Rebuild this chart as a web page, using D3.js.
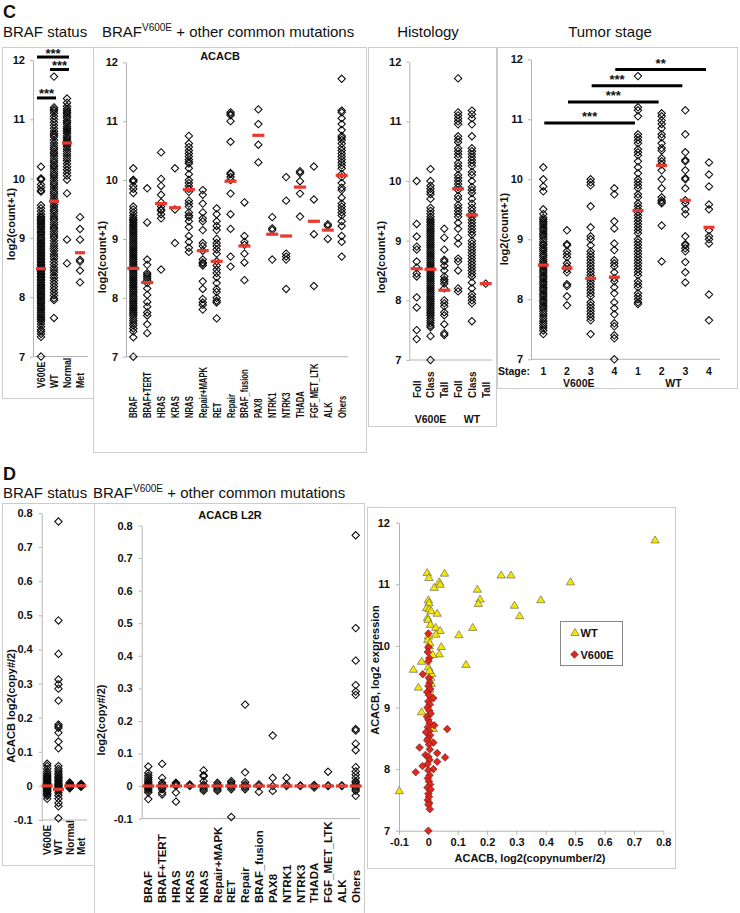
<!DOCTYPE html>
<html><head><meta charset="utf-8">
<script src="https://cdn.jsdelivr.net/npm/d3@7"></script>
<style>body{margin:0;background:#fff}svg{display:block}</style>
</head><body>
<svg id="fig" width="740" height="913"></svg>
<script>
// ---------------- DATA ----------------
// C: BRAF status, log2(count+1)
const statusCats = ["V600E","WT","Normal","Met"];
const exprV600E = [10.2,10.0,10.0,9.98,9.9,9.85,9.8,9.78,9.55,9.5,9.45,9.4,9.36,9.34,9.31,9.29,9.27,9.24,9.22,9.19,9.17,9.14,9.11,9.09,9.06,9.03,9.0,8.98,8.95,8.92,8.9,8.88,8.85,8.83,8.8,8.78,8.75,8.73,8.7,8.68,8.65,8.63,8.6,8.58,8.55,8.53,8.5,8.48,8.45,8.43,8.4,8.38,8.35,8.33,8.3,8.28,8.25,8.22,8.2,8.17,8.15,8.12,8.1,8.07,8.04,8.02,8.0,7.97,7.94,7.92,7.89,7.86,7.83,7.8,7.77,7.74,7.71,7.68,7.65,7.62,7.59,7.55,7.5,7.45,7.42,7.38,7.33,7.0];
const exprWT = [11.72,11.2,11.17,11.14,11.1,11.05,11.0,10.95,10.9,10.85,10.8,10.76,10.73,10.7,10.65,10.6,10.56,10.52,10.49,10.45,10.42,10.38,10.34,10.3,10.27,10.23,10.2,10.16,10.12,10.08,10.05,10.01,9.97,9.93,9.9,9.86,9.82,9.78,9.75,9.71,9.67,9.63,9.6,9.56,9.52,9.48,9.45,9.41,9.37,9.33,9.3,9.26,9.22,9.18,9.15,9.11,9.07,9.03,9.0,8.95,8.9,8.86,8.82,8.78,8.73,8.69,8.65,8.6,8.55,8.5,8.46,8.42,8.37,8.33,8.28,8.23,8.18,8.13,8.08,8.03,7.98,7.95,7.65];
const exprNormal = [11.35,11.28,11.22,11.18,11.15,11.12,11.09,11.05,11.02,10.98,10.95,10.92,10.88,10.85,10.82,10.79,10.76,10.72,10.69,10.66,10.63,10.6,10.57,10.54,10.5,10.46,10.42,10.38,10.34,10.3,10.25,10.2,10.15,10.1,10.05,9.98,9.75,8.97,8.57];
const exprMet = [9.35,9.15,8.97,8.63,8.6,8.45,8.25];
const statusExprMedians = [8.48,9.62,10.6,8.75];
const statusSig = [{a:0,b:2,level:12.05,label:"***"},{a:1,b:2,level:11.84,label:"***"},{a:0,b:1,level:11.36,label:"***"}];

// C: BRAF V600E + other common mutations, ACACB
const mutCats = ["BRAF","BRAF+TERT","HRAS","KRAS","NRAS","Repair+MAPK","RET","Repair","BRAF_fusion","PAX8","NTRK1","NTRK3","THADA","FGF_MET_LTK","ALK","Ohers"];
const mBRAF = [10.2,10.0,10.0,9.97,9.9,9.85,9.78,9.55,9.5,9.45,9.4,9.36,9.33,9.31,9.28,9.25,9.22,9.19,9.16,9.13,9.1,9.07,9.04,9.01,8.98,8.95,8.92,8.89,8.86,8.83,8.8,8.77,8.74,8.71,8.68,8.65,8.62,8.59,8.56,8.53,8.5,8.47,8.44,8.41,8.38,8.35,8.32,8.29,8.26,8.23,8.2,8.17,8.14,8.11,8.08,8.05,8.02,7.99,7.96,7.93,7.9,7.87,7.84,7.81,7.78,7.75,7.72,7.69,7.65,7.61,7.57,7.53,7.48,7.43,7.33,7.0];
const mBRAFTERT = [9.86,9.28,8.65,8.56,8.42,8.39,8.36,8.33,8.3,8.25,8.16,8.05,7.93,7.85,7.75,7.7,7.55,7.4];
const mHRAS = [10.47,10.02,9.9,9.75,9.62,9.55,9.5,9.48,9.42,9.35,8.48];
const mKRAS = [10.2,9.5,8.93];
const mNRAS = [10.75,10.62,10.56,10.5,10.45,10.4,10.35,10.31,10.28,10.2,10.1,10.0,9.95,9.9,9.85,9.8,9.65,9.6,9.55,9.45,9.4,9.37,9.3,9.2,9.05,8.95,8.85,8.78];
const mRepairMAPK = [9.83,9.75,9.6,9.45,9.35,9.3,9.15,8.93,8.88,8.8,8.65,8.6,8.58,8.55,8.28,8.15,7.98,7.92,7.88,7.8];
const mRET = [9.52,9.42,9.3,9.22,9.15,9.0,8.93,8.88,8.82,8.75,8.62,8.55,8.48,8.42,8.35,8.25,8.15,8.1,8.0,7.95,7.92,7.65];
const mRepair = [11.15,11.12,11.1,11.0,10.65,10.12,10.1,10.05,10.0,9.77,9.42,9.17,8.7,8.53];
const mBRAFfusion = [9.62,9.05,8.95,8.9,8.75,8.6,8.3];
const mPAX8 = [11.2,10.95,10.6,10.3];
const mNTRK1 = [9.37,9.18,9.15,8.65];
const mNTRK3 = [10.05,9.65,8.75,8.7,8.65,8.15];
const mTHADA = [10.15,10.12,9.98,9.77,9.38];
const mFGF = [10.23,9.67,9.08,8.2];
const mALK = [9.25,9.22,9.0];
const mOthers = [11.72,11.18,11.15,11.05,10.95,10.85,10.75,10.72,10.68,10.62,10.55,10.5,10.45,10.4,10.35,10.3,10.25,10.2,10.1,10.05,9.95,9.87,9.83,9.7,9.6,9.55,9.5,9.45,9.4,9.3,9.22,9.05,8.95,8.7];
const mutExprMedians = [8.5,8.26,9.6,9.53,9.84,8.8,8.62,9.98,8.88,10.76,9.08,9.05,9.88,9.3,9.15,10.08];

// C: Histology
const histCats = ["Foll","Class","Tall","Foll","Class","Tall"];
const histGroups = ["V600E","WT"];
const hFollV = [10.0,9.28,9.07,8.9,8.85,8.65,8.55,8.45,8.4,8.05,7.88,7.5,7.35];
const hClassV = [10.2,10.0,9.92,9.87,9.82,9.78,9.7,9.55,9.5,9.45,9.4,9.36,9.33,9.3,9.27,9.24,9.21,9.18,9.15,9.12,9.09,9.06,9.03,9.0,8.97,8.94,8.91,8.88,8.85,8.82,8.79,8.76,8.73,8.7,8.67,8.64,8.61,8.58,8.55,8.52,8.49,8.46,8.43,8.4,8.37,8.34,8.31,8.28,8.25,8.22,8.19,8.16,8.13,8.1,8.07,8.04,8.01,7.98,7.95,7.92,7.89,7.86,7.83,7.8,7.77,7.74,7.7,7.66,7.62,7.58,7.55,7.4,7.0];
const hTallV = [9.2,9.05,8.85,8.68,8.65,8.58,8.5,8.4,8.35,8.32,8.28,8.2,8.0,7.95,7.9,7.8,7.75,7.6,7.45,7.42];
const hFollW = [11.72,11.15,11.1,11.05,11.0,10.95,10.75,10.7,10.65,10.55,10.5,10.45,10.4,10.3,10.25,10.2,10.1,10.05,10.0,9.95,9.9,9.85,9.75,9.7,9.6,9.55,9.5,9.45,9.4,9.3,9.2,9.05,8.95,8.7,8.65,8.5,8.2,8.15];
const hClassW = [11.18,11.12,11.05,10.95,10.75,10.55,10.5,10.45,10.4,10.35,10.3,10.25,10.15,10.1,10.0,9.9,9.85,9.8,9.7,9.62,9.55,9.5,9.45,9.4,9.35,9.3,9.25,9.2,9.15,9.1,9.0,8.95,8.9,8.85,8.8,8.75,8.7,8.65,8.6,8.55,8.5,8.45,8.4,8.3,8.2,8.1,8.05,8.0,7.95,7.65];
const hTallW = [8.28];
const histMedians = [8.53,8.52,8.17,9.87,9.43,8.28];

// C: Tumor stage
const stageCats = ["1","2","3","4","1","2","3","4"];
const stageGroups = ["V600E","WT"];
const sV1 = [10.2,10.0,9.88,9.8,9.5,9.42,9.36,9.33,9.3,9.27,9.24,9.2,9.17,9.14,9.1,9.07,9.04,9.0,8.96,8.92,8.9,8.86,8.83,8.8,8.76,8.73,8.7,8.66,8.63,8.6,8.57,8.54,8.5,8.47,8.44,8.4,8.37,8.34,8.3,8.27,8.24,8.2,8.17,8.14,8.1,8.07,8.04,8.0,7.97,7.94,7.9,7.87,7.84,7.8,7.76,7.72,7.68,7.64,7.6,7.56,7.52,7.48,7.42];
const sV2 = [9.15,8.92,8.9,8.8,8.75,8.7,8.6,8.55,8.5,8.45,8.25,8.22,8.05,7.9];
const sV3 = [10.0,9.95,9.9,9.55,9.2,9.05,9.0,8.9,8.8,8.75,8.7,8.65,8.6,8.55,8.5,8.45,8.4,8.35,8.3,8.25,8.2,8.15,8.1,8.05,7.95,7.9,7.85,7.8,7.75,7.7,7.65,7.42];
const sV4 = [9.85,9.75,9.3,9.18,8.93,8.82,8.65,8.6,8.55,8.45,8.35,8.3,8.2,8.1,7.95,7.85,7.75,7.6,7.55,7.4,7.35,7.0];
const sW1 = [11.72,11.2,11.15,11.05,10.75,10.7,10.65,10.6,10.5,10.45,10.4,10.3,10.2,10.1,10.0,9.95,9.9,9.85,9.75,9.7,9.6,9.55,9.5,9.45,9.4,9.35,9.3,9.25,9.2,9.15,9.1,9.0,8.95,8.9,8.85,8.8,8.75,8.7,8.65,8.6,8.55,8.5,8.45,8.4,8.3,8.25,8.2,8.1,8.05,8.0,7.95,7.92];
const sW2 = [11.1,11.05,10.98,10.92,10.85,10.75,10.7,10.6,10.52,10.48,10.35,10.3,10.25,10.15,10.0,9.85,9.7,9.65,9.62,9.6,9.23,8.63];
const sW3 = [11.15,10.75,10.45,10.32,10.3,10.15,10.02,10.0,9.85,9.65,9.6,9.5,9.42,9.05,8.92,8.9,8.85,8.8,8.62,8.45,8.28];
const sW4 = [10.28,10.08,9.88,9.58,9.5,9.15,9.05,9.0,8.93,8.08,7.65];
const stageMedians = [8.57,8.52,8.35,8.37,9.48,10.23,9.65,9.2];
const stageSig = [{a:0,b:4,level:10.94,label:"***",dx:0},{a:1,b:5,level:11.29,label:"***",dx:0},{a:2,b:6,level:11.56,label:"***",dx:-20},{a:3,b:7,level:11.83,label:"**",dx:0}];

// D: BRAF status, ACACB log2(copy#/2)
const cnV600E = [0.065,0.058,0.05,0.042,0.036,0.031,0.027,0.023,0.02,0.017,0.014,0.011,0.008,0.006,0.004,0.002,0.0,-0.002,-0.004,-0.006,-0.009,-0.012,-0.015,-0.018,-0.022,-0.026,-0.03,-0.038];
const cnWT = [0.775,0.485,0.387,0.312,0.298,0.285,0.25,0.18,0.175,0.17,0.156,0.13,0.11,0.058,0.05,0.044,0.038,0.033,0.028,0.024,0.02,0.016,0.012,0.008,0.005,0.002,0.0,-0.003,-0.006,-0.01,-0.014,-0.02,-0.028,-0.038,-0.05,-0.06,-0.095];
const cnNormal = [0.01,0.007,0.004,0.002,0.0,-0.002,-0.005,-0.007];
const cnMet = [0.006,0.003,0.001,-0.001,-0.003];
const statusCnMedians = [0.0,-0.01,0.0,0.0];

// D: mutations, ACACB L2R
const cBRAF = [0.06,0.04,0.032,0.026,0.02,0.015,0.01,0.006,0.003,0.0,-0.003,-0.006,-0.01,-0.015,-0.02,-0.04];
const cBRAFTERT = [0.068,0.025,0.01,0.005,0.0,-0.005,-0.01,-0.02,-0.026];
const cHRAS = [0.01,0.007,0.004,0.0,-0.02,-0.048];
const cKRAS = [0.005,0.002,0.0];
const cNRAS = [0.048,0.033,0.03,0.015,0.005,0.0,-0.005,-0.01,-0.015];
const cRepairMAPK = [0.01,0.005,0.0,-0.005,-0.01,-0.015];
const cRET = [0.015,0.01,0.005,0.0,-0.005,-0.01,-0.095];
const cRepair = [0.25,0.042,0.012,0.005,0.0,-0.005,-0.01];
const cBRAFfusion = [0.005,0.0,-0.018];
const cPAX8 = [0.155,0.025,0.0,-0.015];
const cNTRK1 = [0.025,0.005,0.0];
const cNTRK3 = [0.002,0.0];
const cTHADA = [0.003,0.0,-0.005];
const cFGF = [0.044,0.002,0.0];
const cALK = [0.002,0.0];
const cOthers = [0.77,0.485,0.385,0.31,0.29,0.28,0.175,0.17,0.13,0.11,0.058,0.045,0.035,0.025,0.015,0.01,0.005,0.0,-0.005,-0.01,-0.015,-0.03];
const mutCnMedians = [0,0,0,0,0,0,0,0,0,0,0,0,0,0,0,0];

// D: scatter ACACB copy number vs expression
const scatterWT = [[-0.004,11.19],[0.002,11.11],[0.055,11.18],[0.037,11.04],[0.04,11.0],[0.02,10.95],[0.248,11.15],[0.281,11.15],[0.484,11.04],[0.167,10.92],[0.176,10.76],[0.17,10.69],[0.383,10.75],[0.293,10.66],[0.311,10.49],[0.151,10.3],[0.104,10.18],[0.128,9.7],[-0.051,9.62],[-0.034,9.33],[-0.023,8.93],[-0.099,7.65],[0.0,10.75],[0.002,10.7],[-0.006,10.62],[0.003,10.6],[0.01,10.57],[0.03,10.53],[-0.003,10.46],[-0.001,10.43],[0.007,10.35],[0.025,10.3],[0.04,10.25],[0.025,10.19],[0.044,9.99],[0.037,9.87],[0.015,9.86],[-0.023,9.75],[0.0,9.66],[0.008,9.49],[0.01,9.39],[0.0,10.16],[-0.002,10.1],[0.003,10.0],[0.005,10.05],[0.012,9.55],[0.004,9.6],[0.017,8.66],[0.01,9.2],[0.005,9.3],[0.772,11.72]];
const scatterV600E = [[0.0,10.2],[0.0,9.98],[-0.002,9.9],[0.003,9.8],[0.0,9.75],[-0.019,9.54],[0.002,9.48],[0.004,9.4],[0.0,9.35],[0.006,9.3],[-0.004,9.25],[0.002,9.2],[0.017,9.15],[0.0,9.1],[0.005,9.05],[-0.003,9.0],[0.003,8.95],[0.008,8.9],[-0.005,8.85],[0.0,8.8],[0.004,8.75],[0.02,8.71],[0.064,8.65],[-0.002,8.68],[0.003,8.62],[-0.008,8.6],[0.006,8.55],[0.0,8.5],[-0.004,8.47],[0.017,8.43],[0.002,8.4],[-0.03,8.35],[0.005,8.32],[0.03,8.26],[-0.01,8.23],[0.0,8.2],[0.057,8.19],[0.004,8.15],[0.03,8.12],[-0.003,8.08],[-0.02,8.05],[0.017,8.0],[0.0,7.98],[-0.043,7.95],[0.004,7.9],[-0.002,7.85],[0.002,7.8],[0.006,7.75],[-0.003,7.7],[0.008,7.67],[0.0,7.6],[0.002,7.55],[-0.002,7.5],[0.003,7.45],[0.0,7.42],[0.005,7.35],[0.0,7.0]];

const exprTicks = [7,8,9,10,11,12];
const cnTicks = [-0.1,0,0.1,0.2,0.3,0.4,0.5,0.6,0.7,0.8];

// ---------------- DRAWING ----------------
const FONT = "'Liberation Sans', Arial, Helvetica, sans-serif";
const AX = "#b4b4b4", FRAME = "#cccccc", RED = "#e8392e", INK = "#111";
const svg = d3.select("#fig").style("font-family", FONT);
const diamond = r => `M0,${-r}L${r},0L0,${r}L${-r},0Z`;
const triangle = r => `M0,${-r}L${r*1.05},${r*0.75}L${-r*1.05},${r*0.75}Z`;
const cnFmt = d => d === 0 ? "0" : String(+d.toFixed(1));

function frame(x0, y0, x1, y1) {
  svg.append("rect").attr("x", x0 + 0.5).attr("y", y0 + 0.5).attr("width", x1 - x0).attr("height", y1 - y0)
    .attr("fill", "none").attr("stroke", FRAME).attr("stroke-width", 1);
}
function txt(x, y, s, size, weight, anchor) {
  return svg.append("text").attr("x", x).attr("y", y).attr("font-size", size)
    .attr("font-weight", weight || "normal").attr("text-anchor", anchor || "start").attr("fill", INK).text(s);
}
function supTitle(x, y) {
  const t = svg.append("text").attr("x", x).attr("y", y).attr("font-size", 15).attr("fill", INK);
  t.append("tspan").text("BRAF");
  t.append("tspan").attr("font-size", 10).attr("dy", -6).text("V600E");
  t.append("tspan").attr("dy", 6).text(" + other common mutations");
}
function rotLabel(x, y, s, size) {
  svg.append("text").attr("transform", `translate(${x},${y}) rotate(-90)`).attr("text-anchor", "middle")
    .attr("font-size", size || 11).attr("font-weight", "bold").attr("fill", INK).text(s);
}
function styleAxis(ga, size) {
  ga.select(".domain").attr("stroke", AX);
  ga.selectAll(".tick line").attr("stroke", AX);
  ga.selectAll(".tick text").attr("font-family", FONT).attr("font-weight", "bold")
    .attr("font-size", size || 11).attr("fill", INK);
}

function strip(cfg) {
  const g = svg.append("g");
  const y = d3.scaleLinear().domain(cfg.yDomain).range(cfg.yRange);
  const x = d3.scalePoint().domain(d3.range(cfg.groups.length)).range(cfg.xRange);
  const ax = d3.axisLeft(y).tickValues(cfg.ticks).tickFormat(cfg.fmt || d3.format("d"))
    .tickSize(3).tickSizeOuter(0).tickPadding(cfg.pad || 5);
  const ga = g.append("g").attr("transform", `translate(${cfg.axisX},0)`).call(ax);
  styleAxis(ga);
  g.append("line").attr("x1", cfg.axisX).attr("x2", cfg.lineEnd)
    .attr("y1", y(cfg.yDomain[0])).attr("y2", y(cfg.yDomain[0])).attr("stroke", AX);
  cfg.groups.forEach((vals, i) => {
    g.append("g").selectAll("path").data(vals).join("path")
      .attr("d", diamond(3.7)).attr("transform", v => `translate(${x(i)},${y(v)})`)
      .attr("fill", "none").attr("stroke", "#0a0a0a").attr("stroke-width", 1.05);
  });
  g.append("g").selectAll("rect").data(cfg.medians).join("rect")
    .attr("x", (m, i) => x(i) - cfg.medW / 2).attr("y", m => y(m) - 1.6)
    .attr("width", cfg.medW).attr("height", 3.2).attr("fill", RED);
  if (cfg.labels) {
    g.append("g").selectAll("text").data(cfg.labels).join("text")
      .attr("transform", (s, i) => `translate(${x(i)},${cfg.labelY}) rotate(-90) scale(${cfg.labelScale || 1},1)`)
      .attr("dy", "0.36em").attr("font-size", cfg.labelSize || 11).attr("font-weight", "bold")
      .attr("fill", INK).text(s => s);
  }
  return { g, x, y };
}
function sigBars(p, bars, padL, padR, textOff) {
  bars.forEach(b => {
    const x0 = p.x(b.a) + padL, x1 = p.x(b.b) + padR, yy = p.y(b.level);
    p.g.append("line").attr("x1", x0).attr("x2", x1).attr("y1", yy).attr("y2", yy)
      .attr("stroke", "#000").attr("stroke-width", 3);
    p.g.append("text").attr("x", (x0 + x1) / 2 + (b.dx || 0)).attr("y", yy + textOff)
      .attr("text-anchor", "middle").attr("font-size", 13).attr("font-weight", "bold").attr("fill", INK).text(b.label);
  });
}

// ---- Panel C titles and frames
txt(3, 18, "C", 18, "bold");
txt(3, 37, "BRAF status", 15);
supTitle(102, 37);
txt(428, 37, "Histology", 15, "normal", "middle");
txt(610, 37, "Tumor stage", 15, "normal", "middle");
frame(2, 47, 93, 398);
frame(93, 47, 366, 452);
frame(368, 47, 496, 426);
frame(497, 47, 737, 388);

// C1 BRAF status
const c1 = strip({ yDomain: [7, 12], yRange: [356.5, 60], xRange: [41, 80], axisX: 33, lineEnd: 88,
  ticks: exprTicks, groups: [exprV600E, exprWT, exprNormal, exprMet], medians: statusExprMedians, medW: 10,
  labels: statusCats, labelY: 388, labelSize: 11, labelScale: 0.8 });
sigBars(c1, statusSig, -4, 2, 0.5);
rotLabel(15, 224, "log2(count+1)");

// C2 mutations
const c2 = strip({ yDomain: [7, 12], yRange: [356.7, 62.3], xRange: [133.3, 341.7], axisX: 126, lineEnd: 348,
  ticks: exprTicks, groups: [mBRAF, mBRAFTERT, mHRAS, mKRAS, mNRAS, mRepairMAPK, mRET, mRepair, mBRAFfusion, mPAX8, mNTRK1, mNTRK3, mTHADA, mFGF, mALK, mOthers],
  medians: mutExprMedians, medW: 12, labels: mutCats, labelY: 418, labelSize: 11, labelScale: 0.7 });
txt(220, 60, "ACACB", 11, "bold", "middle");
rotLabel(106, 257, "log2(count+1)");

// C3 histology
const c3 = strip({ yDomain: [7, 12], yRange: [360, 61.7], xRange: [416.7, 485.7], axisX: 409.3, lineEnd: 492,
  ticks: exprTicks, groups: [hFollV, hClassV, hTallV, hFollW, hClassW, hTallW], medians: histMedians, medW: 12,
  labels: histCats, labelY: 398, labelSize: 11, labelScale: 0.9 });
histGroups.forEach((s, i) => txt((c3.x(i * 3) + c3.x(i * 3 + 2)) / 2, 423, s, 10.5, "bold", "middle"));
rotLabel(385, 257, "log2(count+1)");

// C4 tumor stage
const c4 = strip({ yDomain: [7, 12], yRange: [359.3, 59.3], xRange: [543.3, 709], axisX: 531, lineEnd: 720,
  ticks: exprTicks, groups: [sV1, sV2, sV3, sV4, sW1, sW2, sW3, sW4], medians: stageMedians, medW: 11 });
sigBars(c4, stageSig, 1, -3, -2);
txt(530, 375, "Stage:", 10.5, "bold", "end");
stageCats.forEach((s, i) => txt(c4.x(i), 375, s, 10.5, "bold", "middle"));
stageGroups.forEach((s, i) => txt((c4.x(i * 4) + c4.x(i * 4 + 3)) / 2, 387, s, 10.5, "bold", "middle"));
rotLabel(508, 229, "log2(count+1)");

// ---- Panel D
txt(3, 480, "D", 18, "bold");
txt(3, 498, "BRAF status", 15);
supTitle(93, 498);
frame(2, 503, 94, 865);
frame(94, 503, 364, 915);
frame(367, 507, 675, 868);

const d1 = strip({ yDomain: [-0.1, 0.8], yRange: [820, 513], xRange: [47.2, 81], axisX: 41.7, lineEnd: 87,
  ticks: cnTicks, fmt: cnFmt, pad: 6, groups: [cnV600E, cnWT, cnNormal, cnMet], medians: statusCnMedians, medW: 11,
  labels: statusCats, labelY: 855, labelSize: 11, labelScale: 0.92 });
rotLabel(15, 706, "ACACB log2(copy#/2)");

const d2 = strip({ yDomain: [-0.1, 0.8], yRange: [818.6, 525.5], xRange: [148.3, 355.7], axisX: 141.7, lineEnd: 360,
  ticks: cnTicks, fmt: cnFmt, pad: 6, groups: [cBRAF, cBRAFTERT, cHRAS, cKRAS, cNRAS, cRepairMAPK, cRET, cRepair, cBRAFfusion, cPAX8, cNTRK1, cNTRK3, cTHADA, cFGF, cALK, cOthers],
  medians: mutCnMedians, medW: 12, labels: mutCats, labelY: 903, labelSize: 11.5, labelScale: 1 });
txt(230, 519, "ACACB L2R", 11, "bold", "middle");
rotLabel(105, 720, "log2(copy#/2)");

// Scatter
const sx = d3.scaleLinear().domain([-0.1, 0.8]).range([399, 663.3]);
const sy = d3.scaleLinear().domain([7, 12]).range([830.7, 522.7]);
const gs = svg.append("g");
const axL = gs.append("g").attr("transform", "translate(399,0)")
  .call(d3.axisLeft(sy).tickValues(exprTicks).tickFormat(d3.format("d")).tickSize(3).tickSizeOuter(0).tickPadding(6));
styleAxis(axL);
const axB = gs.append("g").attr("transform", "translate(0,830.7)")
  .call(d3.axisBottom(sx).tickValues(cnTicks).tickFormat(cnFmt).tickSize(4).tickSizeOuter(0).tickPadding(4));
styleAxis(axB);
gs.append("g").selectAll("path").data(scatterWT).join("path")
  .attr("d", triangle(4)).attr("transform", d => `translate(${sx(d[0])},${sy(d[1])})`)
  .attr("fill", "#f5e800").attr("stroke", "#555").attr("stroke-width", 0.6);
gs.append("g").selectAll("path").data(scatterV600E).join("path")
  .attr("d", diamond(3.8)).attr("transform", d => `translate(${sx(d[0])},${sy(d[1])})`)
  .attr("fill", "#e0281e").attr("stroke", "#5a1a14").attr("stroke-width", 0.6);
txt(530, 862, "ACACB, log2(copynumber/2)", 11, "bold", "middle");
rotLabel(379, 670, "ACACB, log2 expression");

// legend
svg.append("rect").attr("x", 560.5).attr("y", 621.5).attr("width", 62).attr("height", 44)
  .attr("fill", "#fff").attr("stroke", "#888");
svg.append("path").attr("d", triangle(4)).attr("transform", "translate(575,632.5)")
  .attr("fill", "#f5e800").attr("stroke", "#555").attr("stroke-width", 0.6);
txt(580.5, 636.5, "WT", 11, "bold");
svg.append("path").attr("d", diamond(3.8)).attr("transform", "translate(574.5,654.5)")
  .attr("fill", "#e0281e").attr("stroke", "#5a1a14").attr("stroke-width", 0.6);
txt(580.5, 658.5, "V600E", 11, "bold");
</script>
</body></html>
